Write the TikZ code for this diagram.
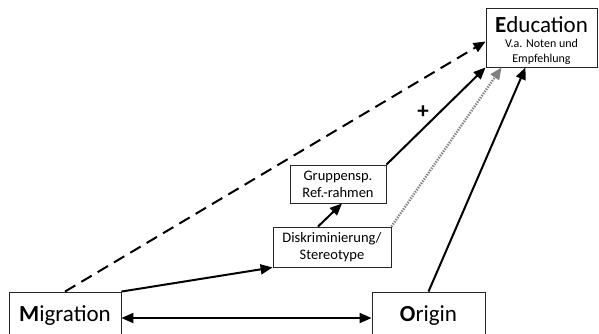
\documentclass[tikz,border=0pt]{standalone}
\usepackage{fontspec}
\setmainfont{Carlito}
\usetikzlibrary{arrows.meta,calc}
\begin{document}
\begin{tikzpicture}[x=1pt,y=-1pt,
  box/.style={draw=black!85,line width=0.9pt,rectangle,inner sep=0pt},
  bigtxt/.style={font=\fontsize{23}{27}\selectfont,inner sep=0pt},
  midtxt/.style={font=\fontsize{14.5}{17}\selectfont,align=center,inner sep=0pt},
  smalltxt/.style={font=\fontsize{12}{15}\selectfont,inner sep=0pt},
  tip/.style={-{Triangle[length=12pt,width=10pt]}},
  conn/.style={tip,line width=2pt,black},
  dashconn/.style={conn,dash pattern=on 12pt off 7pt},
  dotconn/.style={tip,line width=2.5pt,black!50,dash pattern=on 1.3pt off 1.3pt}]
\useasboundingbox (0,0) rectangle (599,333);
\clip (0,0) rectangle (599,333);
% boxes
\node[box,minimum width=111pt,minimum height=59pt] (Education) at (541.5,37.5) {};
\node[bigtxt,anchor=base] (eduT) at (541.5,32) {\textbf{E}ducation};
\node[smalltxt,anchor=base] (eduS1) at (541.5,47) {V.a. Noten und};
\node[smalltxt,anchor=base] (eduS2) at (541.5,62) {Empfehlung};
\node[box,midtxt,minimum width=96pt,minimum height=38pt] (Gruppensp) at (338,184) {Gruppensp.\\Ref.-rahmen};
\node[box,midtxt,minimum width=118pt,minimum height=40pt] (Diskrim) at (332,247) {Diskriminierung/\\Stereotype};
\node[box,minimum width=112pt,minimum height=60pt] (Migration) at (65,322) {};
\node[bigtxt,anchor=base] (migT) at (65,321) {\textbf{M}igration};
\node[box,minimum width=113pt,minimum height=60pt] (Origin) at (428.5,322) {};
\node[bigtxt,anchor=base] (oriT) at (428.5,321) {\textbf{O}rigin};
% connectors
\draw[dashconn] (Migration.north) -- ($(Education.west)+(0,4)$);
\draw[conn] (Migration.north east) -- (Diskrim.south west);
\draw[conn] ($(Diskrim.north)+(-14,0)$) -- ($(Gruppensp.south)+(4,0)$);
\draw[conn] (Gruppensp.north east) -- node[pos=0.37,yshift=16pt,font=\fontsize{23}{25}\selectfont\bfseries,inner sep=0pt] (plus) {+} (Education.south west);
\draw[dotconn] (Diskrim.north east) -- ($(Education.south west)+(16,0)$);
\draw[conn] (Origin.north) -- ($(Education.south)+(-16,0)$);
\draw[conn,{Triangle[length=12pt,width=10pt]}-{Triangle[length=12pt,width=10pt]}] ($(Migration.east)+(0,-4)$) -- ($(Origin.west)+(0,-4)$);
\end{tikzpicture}
\end{document}
